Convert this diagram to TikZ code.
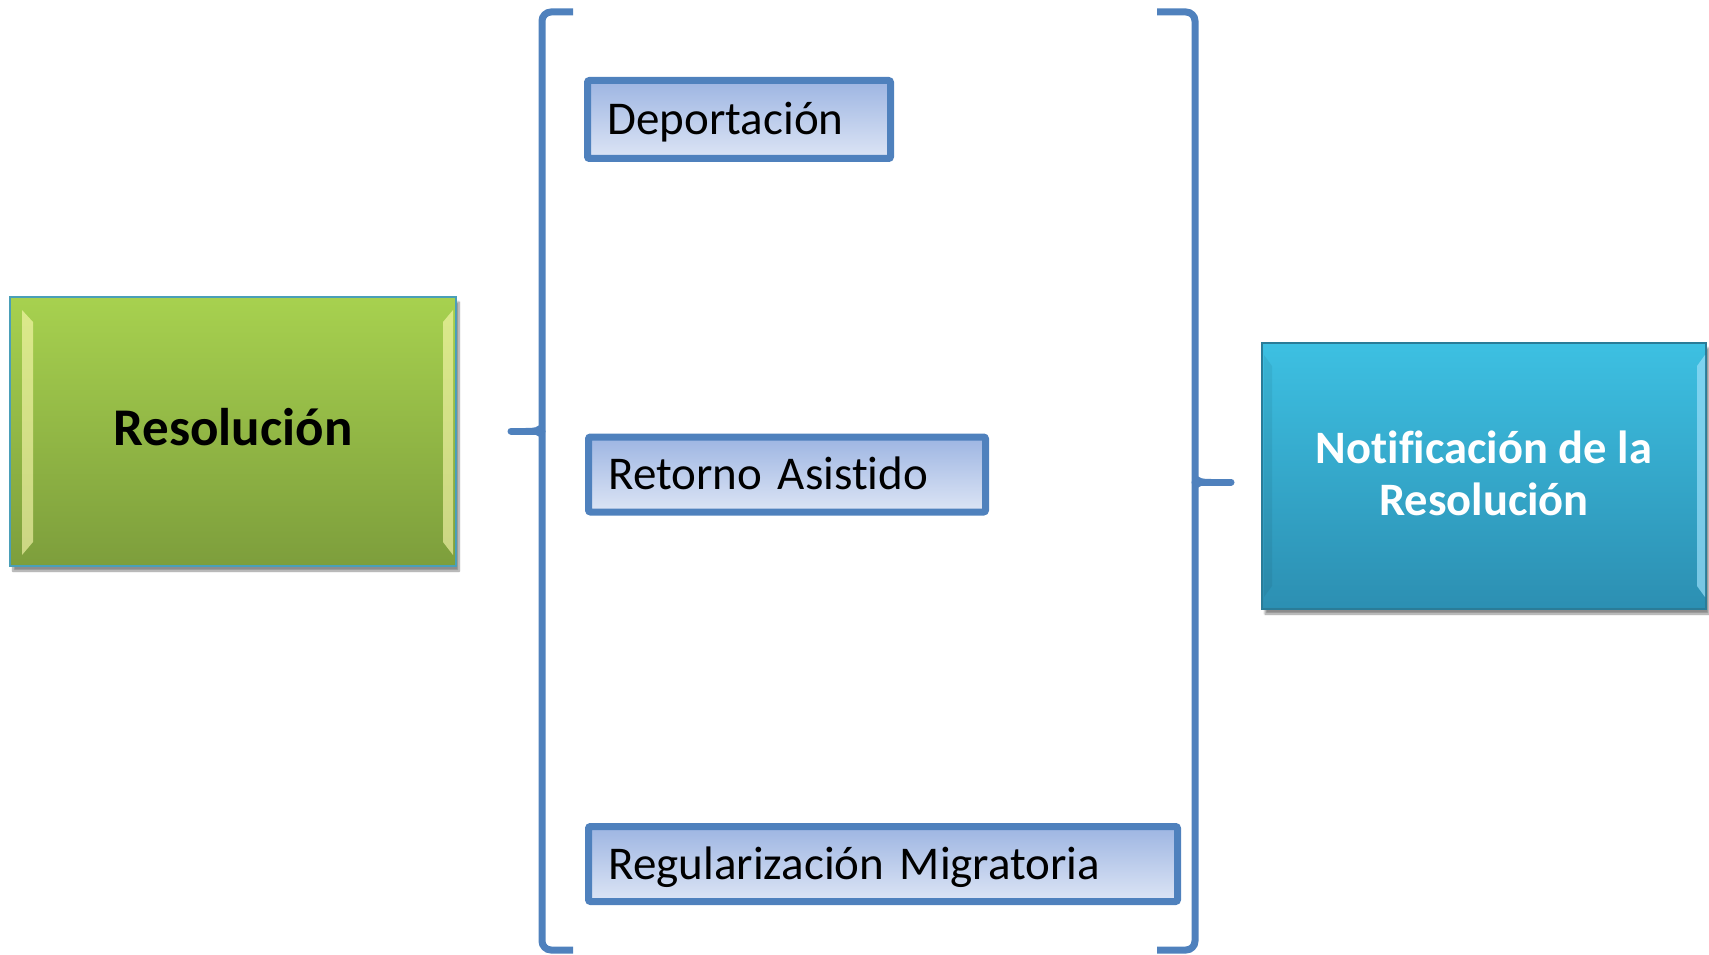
\documentclass[tikz,border=0pt]{standalone}
\usepackage{fontspec}
\setmainfont[Ligatures=NoCommon]{Carlito}
\usetikzlibrary{shadows.blur}
\definecolor{brace}{HTML}{4F81BD}
\definecolor{greentop}{HTML}{A7D14F}
\definecolor{greenbot}{HTML}{7D9E3C}
\definecolor{greenedge}{HTML}{4A9FB8}
\definecolor{bluetop}{HTML}{3DC0E2}
\definecolor{bluebot}{HTML}{2C8FB2}
\definecolor{blueedge}{HTML}{2A7C98}
\definecolor{opttop}{HTML}{9DB5E2}
\definecolor{optbot}{HTML}{DDE5F5}
\newcommand{\nolg}{\kern0pt }
\tikzset{
  bigbox/.style={draw, line width=2pt, inner sep=0pt, align=center,
    blur shadow={shadow xshift=3pt, shadow yshift=-5pt, shadow blur steps=8, shadow opacity=45}},
  greenbox/.style={bigbox, draw=greenedge, top color=greentop, bottom color=greenbot,
    font=\fontsize{53}{60}\selectfont\bfseries, text=black, text height=34pt, text depth=6pt},
  bluebox/.style={bigbox, draw=blueedge, top color=bluetop, bottom color=bluebot,
    font=\fontsize{46.5}{52}\selectfont\bfseries, text=white, text depth=6pt},
  optbox/.style={draw=brace, line width=7pt, rounded corners=2pt, top color=opttop, bottom color=optbot,
    inner xsep=20pt, inner ysep=0pt, align=left, anchor=west, text height=30pt, text depth=0pt,
    font=\fontsize{47}{52}\selectfont, text=black},
  bracepath/.style={draw=brace, line width=7pt, rounded corners=9pt},
  bracetip/.style={draw=brace, line width=7pt, line cap=round},
}
\begin{document}
\begin{tikzpicture}[x=1pt,y=-1pt]
\useasboundingbox (0,0) rectangle (1709,955);
% big boxes
\node[greenbox, minimum width=446pt, minimum height=269pt] (res) at (233,431.5) {Resolución};
\fill[white!70!yellow, opacity=0.6] (22,310) -- (33,322) -- (33,542) -- (22,555) -- cycle;
\fill[white!70!yellow, opacity=0.6] (453,310) -- (443,322) -- (443,542) -- (453,555) -- cycle;
\node[bluebox, minimum width=444pt, minimum height=266pt] (noti) at (1484,476) {Not\nolg if\nolg icación de la\\Resolución};
\fill[cyan!40!white, opacity=0.7] (1705,355) -- (1697,366) -- (1697,586) -- (1705,597) -- cycle;
\fill[black, opacity=0.06] (1264,355) -- (1272,366) -- (1272,586) -- (1264,597) -- cycle;
% option boxes
\node[optbox, minimum height=78pt, text width=263pt] (dep) at (584,119.5) {Deportación};
\node[optbox, minimum height=75pt, text width=357pt] (ret) at (585,474.5) {Retorno Asist\nolg ido};
\node[optbox, minimum height=75pt, text width=549pt] (reg) at (585,864) {Regularización Migratoria};
% left brace
\coordinate (ltop) at (573,12);
\coordinate (lmid) at (542,431);
\coordinate (ltip) at (511,431);
\coordinate (lbot) at (573,950);
\draw[bracepath] (ltop) -- (542,12) -- (lmid) -- (542,950) -- (lbot);
\draw[bracetip] (lmid) -- (ltip);
\fill[brace] (543,422) .. controls (536,428) .. (525,428) -- (525,434) .. controls (536,434) .. (543,440) -- cycle;
% right brace
\coordinate (rtop) at (1157,12);
\coordinate (rmid) at (1195,482);
\coordinate (rtip) at (1231,482);
\coordinate (rbot) at (1157,950);
\draw[bracepath] (rtop) -- (1195,12) -- (rmid) -- (1195,950) -- (rbot);
\draw[bracetip] (rmid) -- (rtip);
\fill[brace] (1194,473) .. controls (1201,479) .. (1212,479) -- (1212,485) .. controls (1201,485) .. (1194,491) -- cycle;
\end{tikzpicture}
\end{document}
